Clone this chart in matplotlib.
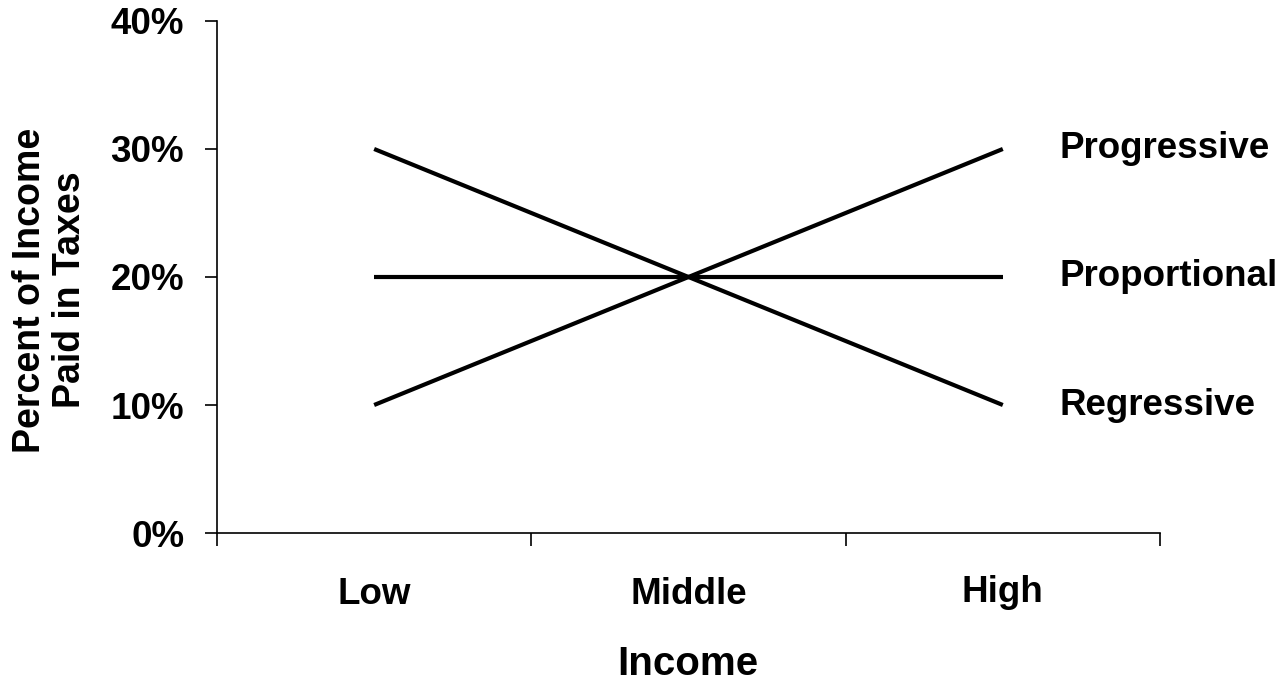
import numpy as np
import matplotlib.pyplot as plt
from matplotlib.transforms import blended_transform_factory

plt.rcParams['font.family'] = ['Liberation Sans', 'DejaVu Sans']
plt.rcParams['font.weight'] = 'bold'

# Tax rate (%) paid at each income level
income_levels = ["Low", "Middle", "High"]
progressive = [10, 20, 30]
proportional = [20, 20, 20]
regressive = [30, 20, 10]
series_names = ["Progressive", "Proportional", "Regressive"]
y_ticks = [0, 10, 20, 30, 40]

fig = plt.figure(figsize=(12.84, 6.83), dpi=100)
ax = fig.add_axes([0.169, 0.2196, 0.7344, 0.7497])

x = np.arange(len(income_levels)) + 0.5
for vals in [progressive, proportional, regressive]:
    ax.plot(x, vals, color='black', lw=3.0, solid_capstyle='butt')

# series names at the right end of each line
for name, vals in zip(series_names, [progressive, proportional, regressive]):
    ax.annotate(name, xy=(x[-1], vals[-1]), xytext=(41, 0), textcoords='offset points',
                va='center', ha='left', fontsize=26.5, fontweight='bold', annotation_clip=False)

ax.set_xlim(0, len(income_levels))
ax.set_ylim(0, 40)
ax.set_yticks(y_ticks)
ax.set_yticklabels([f"{v}%" for v in y_ticks])
ax.set_xticks(np.arange(len(income_levels) + 1))
ax.set_xticklabels([])

ax.spines['top'].set_visible(False)
ax.spines['right'].set_visible(False)
for s in ['left', 'bottom']:
    ax.spines[s].set_linewidth(1.2)
ax.tick_params(axis='y', direction='out', length=8.6, width=1.2, pad=15, labelsize=26.5)
ax.tick_params(axis='x', direction='out', length=9, width=1.2)

# category names under the axis
trans = blended_transform_factory(ax.transData, ax.transAxes)
label_drop = [44, 44, 42.5]
for xi, lab, d in zip(x, income_levels, label_drop):
    ax.annotate(lab, xy=(xi, 0), xycoords=trans, xytext=(0, -d), textcoords='offset points',
                ha='center', va='center', fontsize=26.5, fontweight='bold', annotation_clip=False)

fig.text(688 / 1284, 1 - 664 / 683, "Income", ha='center', va='center',
         fontsize=29, fontweight='bold')
fig.text(50 / 1284, 1 - 290 / 683, "Percent of Income\nPaid in Taxes", rotation=90,
         ha='center', va='center', multialignment='center', fontsize=27,
         fontweight='bold', linespacing=1.15)

fig.savefig("out.png", dpi=100, facecolor='white')
